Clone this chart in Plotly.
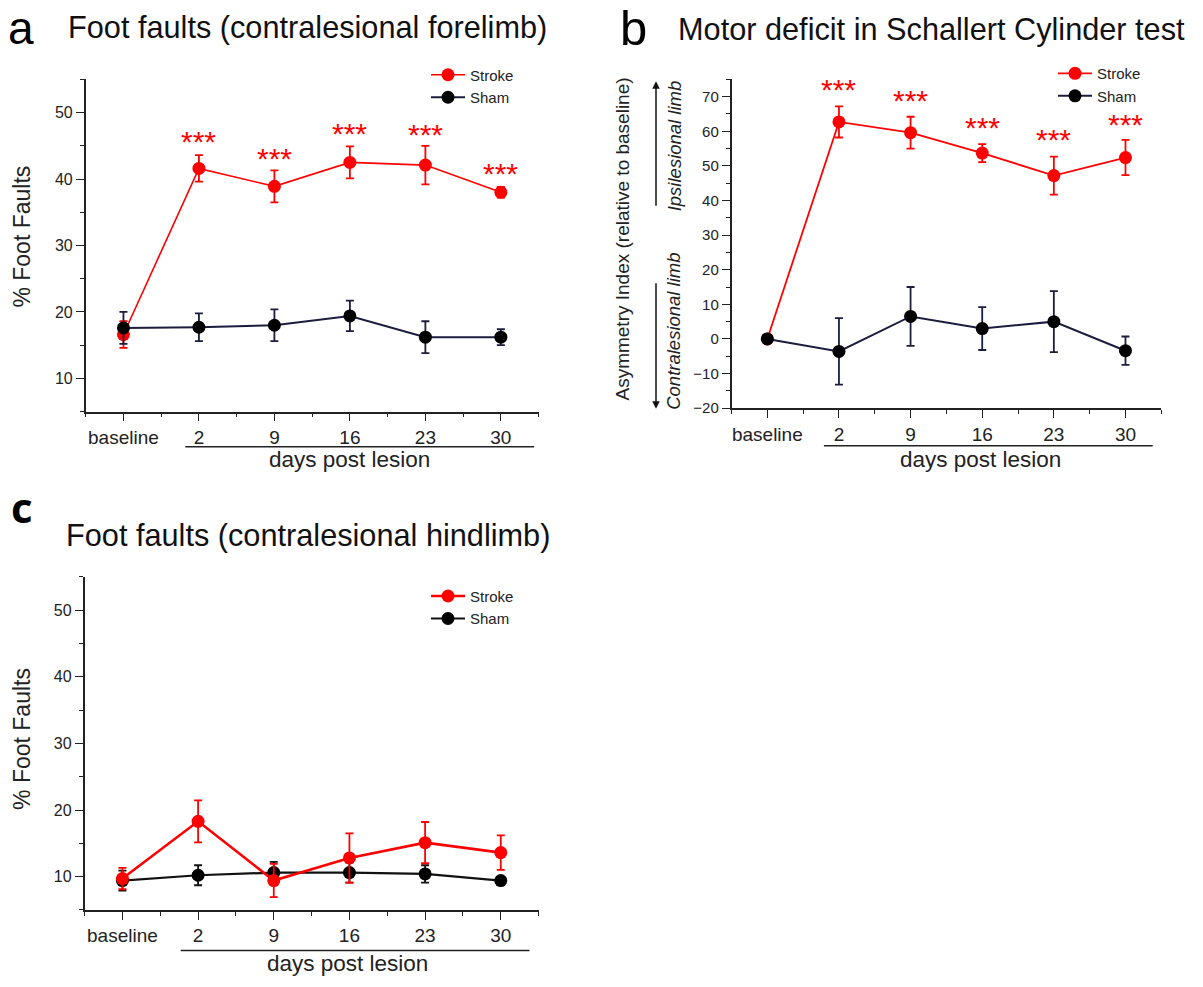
import plotly.graph_objects as go

# ---------------- data ----------------
categories = ["baseline", "2", "9", "16", "23", "30"]

a_stroke = [16.6, 41.6, 38.9, 42.5, 42.1, 38.0]
a_stroke_err = [2.0, 2.0, 2.4, 2.4, 2.9, 0.8]
a_sham = [17.6, 17.7, 18.0, 19.4, 16.2, 16.2]
a_sham_err = [2.4, 2.1, 2.4, 2.3, 2.4, 1.2]
a_star_y = [None, 46.7, 44.1, 47.9, 47.8, 41.9]

b_stroke = [0.0, 62.7, 59.6, 53.7, 47.2, 52.4]
b_stroke_err = [0.0, 4.5, 4.6, 2.6, 5.5, 5.1]
b_sham = [0.0, -3.6, 6.5, 3.0, 5.0, -3.4]
b_sham_err = [0.0, 9.6, 8.5, 6.2, 8.8, 4.1]
b_star_y = [None, 74.0, 70.9, 63.0, 59.6, 64.0]

c_stroke = [9.7, 18.3, 9.4, 12.8, 15.1, 13.6]
c_stroke_err = [1.6, 3.15, 2.5, 3.7, 3.1, 2.6]
c_sham = [9.4, 10.2, 10.6, 10.6, 10.4, 9.4]
c_sham_err = [1.5, 1.5, 1.6, 1.5, 1.3, 0.5]

series_names = ["Stroke", "Sham"]
star_text = "***"

# ---------------- styling ----------------
W, H = 1203, 987
FONT = "Liberation Sans, Arial, sans-serif"
RED = "#ff0000"
NAVY = "#1c1c3e"
BLACK = "#000000"
AXC = "#222222"


def px(x):
    return x / W


def py(y):
    return 1 - y / H


xpos = list(range(len(categories)))

fig = go.Figure()


def add_series(xa, ya, y, err, name, color, mcolor, lw, legend, rank):
    fig.add_trace(go.Scatter(
        x=xpos, y=y, name=name, mode="lines+markers",
        xaxis=xa, yaxis=ya, legend=legend, legendrank=rank,
        line=dict(color=color, width=lw),
        marker=dict(color=mcolor, size=13, line=dict(color=mcolor, width=0)),
        error_y=dict(type="data", array=err, visible=True, color=color,
                     thickness=1.8, width=4),
    ))


# panel a
add_series("x", "y", a_stroke, a_stroke_err, series_names[0], RED, RED, 1.6, "legend", 1)
add_series("x", "y", a_sham, a_sham_err, series_names[1], NAVY, BLACK, 2.0, "legend", 2)
# panel b
add_series("x2", "y2", b_stroke, b_stroke_err, series_names[0], RED, RED, 1.8, "legend2", 1)
add_series("x2", "y2", b_sham, b_sham_err, series_names[1], NAVY, BLACK, 2.0, "legend2", 2)
# panel c (sham under stroke)
add_series("x3", "y3", c_sham, c_sham_err, series_names[1], "#111111", BLACK, 2.2, "legend3", 2)
add_series("x3", "y3", c_stroke, c_stroke_err, series_names[0], RED, RED, 2.6, "legend3", 1)


def xaxis(domain, anchor):
    return dict(
        domain=domain, anchor=anchor, range=[-0.5, 5.5],
        tickmode="array", tickvals=xpos, ticktext=categories,
        ticks="outside", ticklen=8, tickwidth=1.3, tickcolor=AXC,
        minor=dict(tickmode="array", tickvals=[i - 0.5 for i in range(len(categories) + 1)],
                   ticks="outside", ticklen=4, tickwidth=1.3, tickcolor=AXC),
        showline=True, linecolor=AXC, linewidth=1.5,
        showgrid=False, zeroline=False,
        tickfont=dict(family=FONT, size=19, color="#222222"),
    )


def yaxis(domain, anchor, rng, dtick, size=16):
    return dict(
        domain=domain, anchor=anchor, range=rng,
        tickmode="linear", tick0=0, dtick=dtick,
        ticks="outside", ticklen=8, tickwidth=1.3, tickcolor=AXC,
        minor=dict(tick0=0, dtick=dtick / 2, ticks="outside", ticklen=4,
                   tickwidth=1.3, tickcolor=AXC),
        showline=True, linecolor=AXC, linewidth=1.5,
        showgrid=False, zeroline=False,
        tickfont=dict(family=FONT, size=size, color="#222222"),
    )


layout = dict(
    width=W, height=H,
    margin=dict(l=0, r=0, t=0, b=0),
    paper_bgcolor="white", plot_bgcolor="white",
    showlegend=True,
    font=dict(family=FONT, color="#222222"),
    xaxis=xaxis([px(85.7), px(538.6)], "y"),
    yaxis=yaxis([py(415), py(80)], "x", [5, 55], 10),
    xaxis2=xaxis([px(731.5), px(1161.3)], "y2"),
    yaxis2=yaxis([py(411.5), py(80)], "x2", [-20, 75], 10, 15),
    xaxis3=xaxis([px(84.6), px(538.6)], "y3"),
    yaxis3=yaxis([py(917.3), py(581.7)], "x3", [5, 55], 10),
)

legend_common = dict(bgcolor="rgba(0,0,0,0)", borderwidth=0,
                     font=dict(family=FONT, size=15, color="#222222"),
                     xanchor="left", yanchor="top", traceorder="normal",
                     itemwidth=34)
layout["legend"] = dict(x=px(426), y=py(59), **legend_common)
layout["legend2"] = dict(x=px(1053), y=py(57.5), **legend_common)
layout["legend3"] = dict(x=px(426), y=py(584.5), **legend_common)

fig.update_layout(**layout)

ann = []


def text_ann(text, x, y, size, family=FONT, color="#222222", angle=0, xa="center", ya="middle"):
    ann.append(dict(text=text, x=px(x), y=py(y), xref="paper", yref="paper", showarrow=False,
                    textangle=angle, xanchor=xa, yanchor=ya, borderpad=0,
                    font=dict(family=family, size=size, color=color)))


# panel letters
text_ann("a", 21, 28.5, 46, color="black")
text_ann("b", 633.5, 28.5, 49, color="black")
text_ann("<b>c</b>", 22, 511, 42, family="Open Sans", color="black")
# titles
text_ann("Foot faults (contralesional forelimb)", 66.8, 27.6, 30.7, color="#111111", xa="left")
text_ann("Motor deficit in Schallert Cylinder test", 676.8, 29.6, 30.7, color="#111111", xa="left")
text_ann("Foot faults (contralesional hindlimb)", 65, 539.6, 30.7, color="#111111", xa="left")
# y titles
text_ann("% Foot Faults", 22, 238.5, 23, angle=-90)
text_ann("% Foot Faults", 22, 745, 23, angle=-90)
text_ann("Asymmetry Index (relative to baseline)", 623, 241.5, 19, angle=-90)
text_ann("<i>Ipsilesional limb</i>", 674, 147.5, 18.5, angle=-90)
text_ann("<i>Contralesional limb</i>", 674, 334.5, 18.5, angle=-90)
# arrows
ann.append(dict(text="", x=px(656), y=py(82), xref="paper", yref="paper", ax=0, ay=126,
                showarrow=True, arrowhead=2, arrowsize=1, arrowwidth=1.5, arrowcolor="#111111"))
ann.append(dict(text="", x=px(656), y=py(412), xref="paper", yref="paper", ax=0, ay=-127,
                showarrow=True, arrowhead=2, arrowsize=1, arrowwidth=1.5, arrowcolor="#111111"))
# x titles
for xr, xc, yc in [("x", 3.0, 463.5), ("x2", 2.98, 463.5), ("x3", 2.97, 971)]:
    ann.append(dict(text="days post lesion", x=xc, y=py(yc), xref=xr, yref="paper", showarrow=False,
                    borderpad=0, font=dict(family=FONT, size=22.5, color="#222222"),
                    xanchor="center", yanchor="middle"))
# stars
for xr, yr, ys in [("x", "y", a_star_y), ("x2", "y2", b_star_y)]:
    for i, v in enumerate(ys):
        if v is None:
            continue
        ann.append(dict(text=star_text, x=xpos[i], y=v, xref=xr, yref=yr, showarrow=False,
                        xanchor="center", yanchor="middle", borderpad=0,
                        font=dict(family=FONT, size=30, color=RED), yshift=-7))
fig.update_layout(annotations=ann)

shapes = []
for xr, x0, x1, yl in [("x", 0.82, 5.44, 450.5), ("x2", 0.79, 5.38, 449.3), ("x3", 0.77, 5.38, 958.3)]:
    shapes.append(dict(type="line", xref=xr, yref="paper", x0=x0, x1=x1, y0=py(yl), y1=py(yl),
                       line=dict(color="#222222", width=1.5)))
fig.update_layout(shapes=shapes)

fig.write_html("out.html")
